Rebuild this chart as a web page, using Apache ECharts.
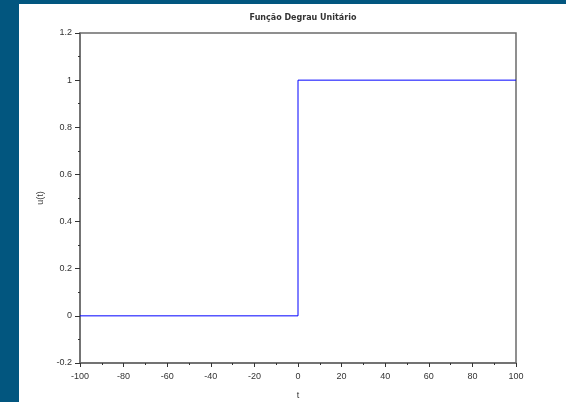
<!DOCTYPE html>
<html><head><meta charset="utf-8">
<script src="https://cdn.jsdelivr.net/npm/echarts@6/dist/echarts.min.js"></script>
<style>
html,body{margin:0;padding:0;background:#02567f;width:566px;height:402px;overflow:hidden}
#c{position:absolute;left:19px;top:4px;width:547px;height:398px;background:#fff}
</style></head><body><div id="c"></div>
<script>
const tValues = [-100, 0, 0, 100];
const uValues = [0, 0, 1, 1];
const titleText = 'Função Degrau Unitário';
const xName = 't';
const yName = 'u(t)';

const chart = echarts.init(document.getElementById('c'), null, {renderer:'canvas'});
const axisColor = '#6b6b6b';
const lblFont = {color:'#333', fontSize:9, fontFamily:'Liberation Sans, Arial, sans-serif'};
chart.setOption({
  animation:false,
  title:{text:titleText, left:279, top:5, textAlign:'center',
    textStyle:{fontSize:8, fontWeight:'bold', color:'#333', fontFamily:'DejaVu Sans, sans-serif'}},
  grid:{left:61, top:29, right:50, bottom:39, outerBoundsMode:'none', containLabel:false,
    show:true, borderColor:axisColor, borderWidth:1.5, backgroundColor:'transparent'},
  xAxis:{type:'value', min:-100, max:100, interval:20,
    name:xName, nameLocation:'middle', nameGap:28, nameTextStyle:lblFont,
    axisLine:{show:true, onZero:false, lineStyle:{color:axisColor, width:1.5}},
    axisTick:{show:true, inside:false, length:4, lineStyle:{color:'#333'}},
    minorTick:{show:true, splitNumber:2, length:2, lineStyle:{color:'#333'}},
    splitLine:{show:false},
    axisLabel:Object.assign({margin:9}, lblFont)},
  yAxis:{type:'value', min:-0.2, max:1.2, interval:0.2,
    name:yName, nameLocation:'middle', nameGap:35, nameRotate:90, nameTextStyle:lblFont,
    axisLine:{show:true, onZero:false, lineStyle:{color:axisColor, width:1.5}},
    axisTick:{show:true, inside:false, length:5, lineStyle:{color:'#333'}},
    minorTick:{show:true, splitNumber:2, length:2, lineStyle:{color:'#333'}},
    splitLine:{show:false},
    axisLabel:Object.assign({margin:8, formatter:v=>String(Math.round(v*10)/10)}, lblFont)},
  series:[{type:'line', data:tValues.map((t,i)=>[t,uValues[i]]), symbol:'none',
    lineStyle:{color:'#0000ff', width:1}}]
});
</script></body></html>
